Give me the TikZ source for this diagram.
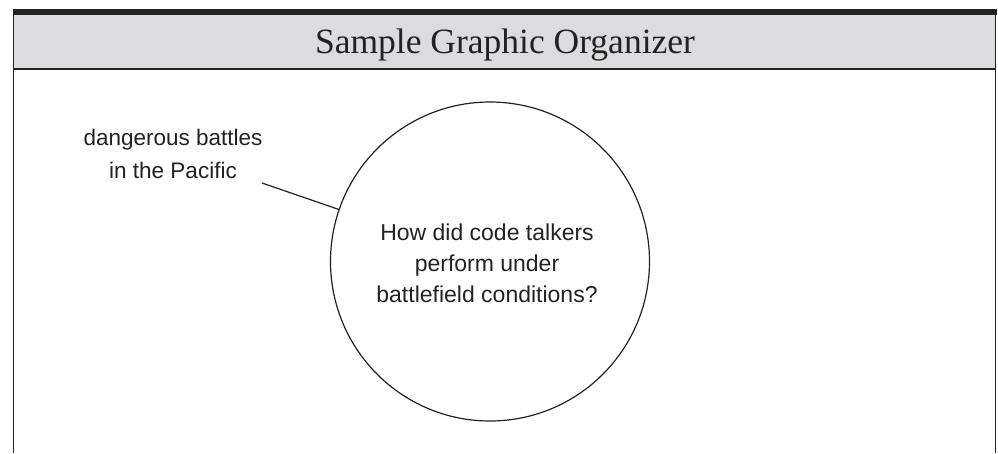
\documentclass[tikz,border=0pt]{standalone}
\usepackage{fontspec}
\setmainfont{Liberation Serif}
\newfontfamily\handfont{Liberation Sans}
\definecolor{hdrgrey}{HTML}{DCDCDE}
\definecolor{ink}{HTML}{222222}
\begin{document}
\begin{tikzpicture}[x=1pt,y=-1pt,
  frameline/.style={draw=ink,line width=1.5pt},
  hand/.style={font=\handfont\fontsize{23}{31}\selectfont,text=ink,align=center,inner sep=0pt},
  bubble/.style={circle,draw=ink,line width=1.2pt,minimum size=319pt,inner sep=0pt}]
\useasboundingbox (0,0) rectangle (998,453);
% header
\fill[hdrgrey] (13,14) rectangle (996,69);
\fill[ink] (13,9) rectangle (997,14.5);
\draw[frameline] (13.5,453) -- (13.5,14) (995.5,14) -- (995.5,453);
\draw[frameline] (13,69) -- (996,69);
\node[font=\fontsize{35.5}{40}\selectfont,text=ink,inner sep=0pt,anchor=base] (title) at (505,53) {Sample Graphic Organizer};
% circle
\node[bubble] (c) at (490,261.5) {};
\node[hand,anchor=base] (q) at (487,302) {How did code talkers\\perform under\\battlefield conditions?};
% label
\node[hand,font=\handfont\fontsize{22.5}{33}\selectfont,anchor=base] (lab) at (173,178) {dangerous battles\\in the Pacific};
\coordinate (ls) at (262,183);
\draw[ink,line width=1.2pt] (ls) -- (c.161);
\end{tikzpicture}
\end{document}
